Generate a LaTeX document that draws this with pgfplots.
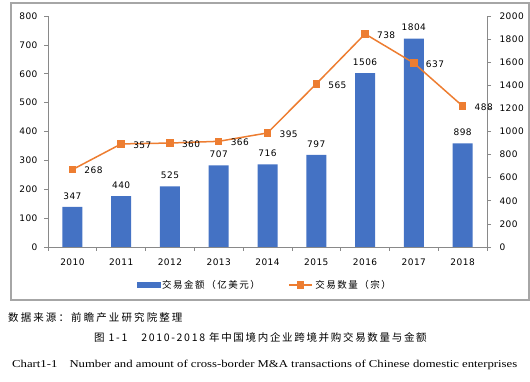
\documentclass[border=0pt]{standalone}
\usepackage{fontspec}
\usepackage{graphicx}
\usepackage{pgfplots}
\pgfplotsset{compat=1.18}
\setmainfont{DejaVu Sans}
\newfontfamily\numfont{DejaVu Sans}[LetterSpace=5]
\newfontfamily\cjk{Noto Sans CJK SC}
\newfontfamily\ensf{Liberation Serif}
\definecolor{barblue}{HTML}{4472C4}
\definecolor{lineorange}{HTML}{ED7D31}
\definecolor{axgray}{HTML}{898989}
\begin{document}
\begin{tikzpicture}[x=1pt,y=1pt]
\useasboundingbox (0,0) rectangle (530,382);
\draw[gray!70, line width=1.3pt] (11,82) rectangle (529,379);
\pgfplotsset{common/.style={
  at={(48pt,135pt)}, anchor=south west, scale only axis, width=439pt, height=231pt,
  xmin=-0.5, xmax=8.5, ymin=0,
  /pgf/number format/assume math mode=true, /pgf/number format/1000 sep={},
  ticklabel style={font=\fontsize{9}{10}\numfont},
  tick style={axgray, line width=0.6pt},
  axis line style={axgray, line width=0.8pt},
  tick align=outside, major tick length=4pt,
}}
% bars: amount on right axis
\begin{axis}[common, ymax=2000, axis y line*=right, axis x line*=bottom,
  ytick={0,200,...,2000},
  xtick={0,...,8}, xticklabels={2010,2011,2012,2013,2014,2015,2016,2017,2018},
  xtick style={draw=none},
  yticklabel style={xshift=5pt},
  xticklabel style={yshift=-4pt}]
\addplot[ybar, bar width=20pt, fill=barblue, draw=none,
  nodes near coords, nodes near coords style={font=\fontsize{9}{10}\numfont, black, yshift=4pt}]
  coordinates {(0,347) (1,440) (2,525) (3,707) (4,716) (5,797) (6,1506) (7,1804) (8,898)};
\end{axis}
% line: count on left axis
\begin{axis}[common, ymax=800, axis y line*=left, axis x line*=bottom,
  ytick={0,100,...,800},
  xtick={-0.5,0.5,...,8.5}, xticklabels={},
  yticklabel style={xshift=-3pt},
  legend style={at={(0.494,-0.1645)}, anchor=center, draw=none, fill=none,
    legend columns=2, font=\fontsize{9.5}{11}\cjk\addfontfeatures{LetterSpace=16},
    /tikz/every even column/.append style={column sep=26pt}}]
\addlegendimage{legend image code/.code={\fill[barblue] (0pt,-2.5pt) rectangle (23pt,2.5pt);}}
\addlegendentry{交易金额（亿美元）}
\addplot[lineorange, line width=1.5pt, mark=square*, mark size=3pt, mark options={solid, fill=lineorange},
  nodes near coords, nodes near coords style={anchor=west, xshift=8pt, yshift=-1pt, font=\fontsize{9}{10}\numfont, black},
  legend image code/.code={\draw[lineorange,line width=2.5pt] (0pt,0pt)--(23pt,0pt); \fill[lineorange] (8.5pt,-3pt) rectangle (14.5pt,3pt);}]
  coordinates {(0,268) (1,357) (2,360) (3,366) (4,395) (5,565) (6,738) (7,637) (8,488)};
\addlegendentry{交易数量（宗）}
\end{axis}
\node[anchor=west, inner sep=0] at (8,64) {\fontsize{10.5}{12}\cjk\addfontfeatures{LetterSpace=20}数据来源：前瞻产业研究院整理};
\node[anchor=west, inner sep=0] at (94,44) {\fontsize{10.5}{12}\cjk\addfontfeatures{LetterSpace=16}图 1-1\hspace{14pt}2010-2018 年中国境内企业跨境并购交易数量与金额};
\node[anchor=west, inner sep=0] at (12,17) {\resizebox{505pt}{\height}{\fontsize{10.5}{12}\ensf Chart1-1\hspace{10pt}Number and amount of cross-border M\&A transactions of Chinese domestic enterprises}};
\end{tikzpicture}
\end{document}
